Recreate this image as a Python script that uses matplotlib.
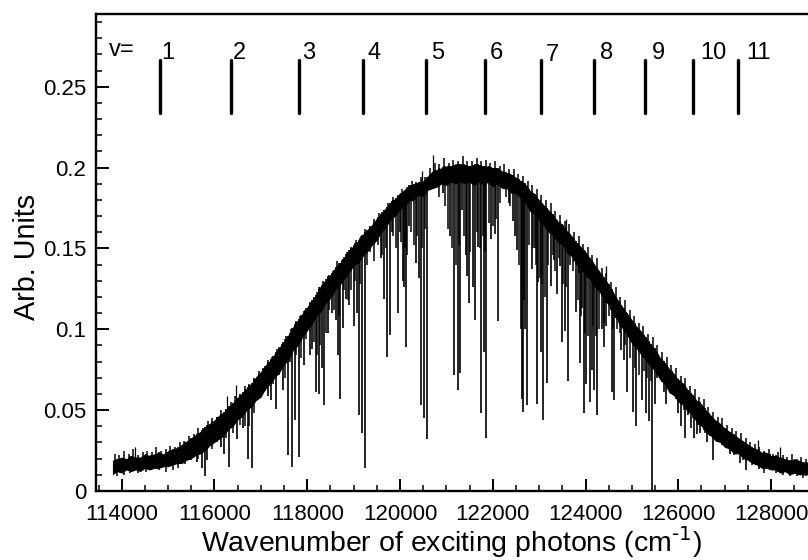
import matplotlib
matplotlib.use('Agg')
import matplotlib.pyplot as plt
import numpy as np

plt.rcParams['font.family'] = ['Liberation Sans', 'DejaVu Sans']
plt.rcParams['mathtext.default'] = 'regular'

x_ticks = [114000, 116000, 118000, 120000, 122000, 124000, 126000, 128000]
y_ticks = [0, 0.05, 0.1, 0.15, 0.2, 0.25]
y_labels = ['0', '0.05', '0.1', '0.15', '0.2', '0.25']

# solid part of the spectrum, every 100 cm-1
band_x = [113800 + 100 * i for i in range(151)]
band_top = [
    .019, .020, .021, .020, .022, .021, .021, .023, .022, .023, .024, .023, .025, .026, .027,
    .029, .031, .033, .035, .037, .040, .042, .044, .047, .049, .052, .055, .058, .061, .064,
    .067, .071, .074, .078, .081, .085, .089, .093, .097, .102, .106, .110, .114, .118, .122,
    .127, .131, .134, .138, .141, .145, .149, .152, .155, .159, .162, .165, .169, .172, .175,
    .179, .181, .184, .186, .189, .190, .191, .191, .195, .198, .199, .200, .201, .201, .202,
    .202, .202, .201, .202, .202, .201, .201, .200, .200, .198, .197, .196, .194, .192, .190,
    .186, .184, .180, .177, .174, .171, .167, .165, .161, .158, .154, .151, .148, .144, .140,
    .136, .132, .128, .123, .118, .114, .110, .106, .102, .099, .095, .091, .088, .083, .080,
    .076, .073, .069, .067, .063, .060, .056, .054, .050, .047, .044, .042, .039, .037, .035,
    .033, .031, .029, .027, .026, .024, .024, .022, .022, .021, .020, .019, .020, .019, .018,
    .018]
band_bottom = [
    .010, .012, .011, .013, .012, .013, .012, .014, .013, .014, .014, .015, .015, .016, .017,
    .017, .019, .020, .022, .023, .025, .028, .030, .032, .034, .038, .040, .044, .046, .050,
    .052, .056, .058, .063, .066, .070, .073, .078, .081, .087, .090, .095, .099, .103, .108,
    .111, .116, .119, .124, .127, .131, .135, .139, .141, .145, .148, .152, .155, .160, .163,
    .168, .170, .174, .176, .179, .180, .183, .182, .186, .187, .188, .190, .189, .191, .190,
    .191, .190, .191, .189, .191, .189, .191, .188, .190, .187, .187, .184, .184, .181, .178,
    .173, .171, .167, .164, .160, .158, .154, .152, .147, .145, .140, .138, .133, .131, .126,
    .123, .118, .115, .109, .105, .100, .096, .091, .088, .084, .081, .077, .074, .069, .066,
    .061, .059, .055, .053, .049, .047, .042, .040, .036, .034, .031, .030, .027, .026, .023,
    .023, .020, .019, .017, .016, .014, .014, .013, .013, .011, .012, .010, .011, .010, .010,
    .010]

# teeth on the upper edge, half way between the band points
tooth_x = [113850 + 100 * i for i in range(150)]
tooth_top = [
    .023, .022, .025, .023, .026, .022, .024, .025, .024, .027, .025, .026, .028, .027, .030,
    .031, .034, .035, .039, .039, .043, .045, .046, .050, .051, .055, .059, .060, .065, .066,
    .070, .074, .076, .081, .083, .088, .091, .096, .100, .105, .108, .112, .117, .120, .126,
    .130, .133, .136, .142, .143, .148, .151, .155, .158, .162, .163, .168, .172, .174, .178,
    .182, .183, .187, .187, .192, .191, .194, .194, .200, .203, .202, .206, .203, .205, .204,
    .207, .204, .204, .206, .204, .205, .203, .204, .201, .202, .199, .199, .196, .195, .192,
    .189, .187, .183, .180, .178, .173, .171, .167, .165, .160, .158, .153, .151, .146, .144,
    .138, .135, .129, .126, .120, .118, .112, .108, .104, .102, .097, .095, .090, .086, .083,
    .078, .076, .071, .070, .065, .063, .058, .057, .052, .049, .046, .045, .041, .039, .037,
    .036, .033, .030, .029, .027, .025, .026, .023, .024, .022, .021, .023, .020, .021, .020]

# absorption lines: position and how far down each one reaches
dip_x = [
    115616, 115724, 115795, 115845, 116133, 116205, 116312, 116478, 116608, 116715, 116802,
    117039, 117159, 117211, 117319, 117483, 117577, 117670, 117735, 117814, 117928, 118058,
    118108, 118188, 118253, 118310, 118360, 118439, 118525, 118618, 118661, 118704, 118762,
    118834, 118905, 119006, 119064, 119107, 119179, 119237, 119581, 119652, 119717, 119775,
    119819, 119954, 119997, 120056, 120084, 120127, 120198, 120342, 120407, 120450, 120515,
    120580, 120931, 121075, 121168, 121241, 121290, 121340, 121420, 121448, 121478, 121564,
    121614, 121685, 121743, 121801, 121865, 121973, 122044, 122103, 122346, 122426, 122476,
    122525, 122605, 122641, 122655, 122691, 122734, 122841, 122906, 122949, 122978, 123036,
    123094, 123159, 123251, 123316, 123381, 123446, 123489, 123553, 123618, 123790, 123855,
    123883, 123920, 123963, 124021, 124092, 124135, 124193, 124258, 124351, 124409, 124452,
    124566, 124624, 124716, 124775, 124825, 124896, 125019, 125098, 125228, 125298, 125363,
    125443, 125493, 125542, 125615, 125687, 125745, 125995, 126068, 126154, 126211, 126275,
    126348, 126404, 126462, 126628, 126693, 126758, 127124, 127340, 127454, 127734, 127971]
dip_y = [
    .018, .014, .009, .019, .027, .023, .015, .032, .039, .020, .014,
    .061, .059, .056, .051, .0625, .022, .015, .044, .021, .078, .084,
    .088, .061, .060, .076, .053, .098, .110, .106, .084, .057, .101,
    .119, .115, .102, .110, .047, .036, .014, .144, .119, .083, .0965,
    .160, .110, .160, .130, .126, .089, .164, .141, .132, .053, .045,
    .032, .184, .158, .072, .0625, .073, .174, .146, .133, .116, .126,
    .106, .151, .048, .086, .033, .156, .159, .105, .178, .167, .158,
    .149, .100, .057, .049, .100, .053, .137, .150, .054, .129, .086,
    .044, .067, .127, .143, .122, .139, .092, .099, .068, .111, .135,
    .079, .113, .048, .066, .055, .075, .0625, .047, .100, .089, .102,
    .061, .056, .104, .087, .081, .061, .049, .040, .056, .048, .043,
    .000, .054, .070, .071, .061, .054, .048, .040, .033, .047, .039,
    .033, .035, .036, .030, .034, .019, .023, .0175, .013, .0136, .013]

# shorter lines that fray the lower edge of the band
shallow_x = [
    113900, 114050, 114180, 114350, 114520, 114640, 114800, 114950, 115100, 115220, 115360,
    115500, 115650, 115950, 116050, 116250, 116390, 116540, 116660, 116750, 116850, 116950,
    117090, 117260, 117400, 117530, 117620, 117760, 117870, 117980, 118140, 118220, 118280,
    118400, 118480, 118570, 118690, 118800, 118870, 118950, 119040, 119140, 119280, 119360,
    119440, 119520, 119620, 119690, 119860, 119910, 120030, 120110, 120160, 120240, 120300,
    120370, 120480, 120540, 120850, 120980, 121040, 121120, 121210, 121270, 121380, 121520,
    121650, 121720, 121780, 121840, 121920, 122010, 122080, 122160, 122280, 122380, 122560,
    122620, 122670, 122780, 122870, 122930, 123010, 123070, 123130, 123200, 123290, 123350,
    123420, 123520, 123590, 123660, 123720, 123830, 123900, 123990, 124060, 124160, 124230,
    124300, 124390, 124500, 124600, 124680, 124750, 124860, 124960, 125060, 125160, 125260,
    125330, 125410, 125570, 125650, 125860, 125930, 126030, 126120, 126240, 126320, 126430,
    126570, 126660, 126830, 127000, 127200, 127400, 127600, 127850, 127950, 128100, 128250,
    128400, 128560, 128680, 128760]
shallow_y = [
    .009, .010, .011, .011, .012, .013, .013, .012, .013, .014, .017,
    .019, .020, .026, .030, .033, .036, .041, .040, .040, .048, .058,
    .062, .066, .072, .070, .080, .084, .082, .094, .092, .084, .090,
    .098, .112, .112, .108, .124, .118, .124, .130, .128, .140, .148,
    .142, .152, .146, .150, .158, .150, .154, .150, .146, .160, .152,
    .158, .150, .162, .182, .176, .162, .150, .140, .152, .158, .148,
    .160, .150, .158, .148, .166, .164, .168, .178, .182, .176, .140,
    .130, .118, .152, .150, .140, .132, .128, .120, .140, .146, .136,
    .144, .128, .126, .140, .136, .118, .108, .098, .096, .102, .096,
    .100, .104, .108, .100, .100, .098, .090, .082, .076, .072, .074,
    .070, .068, .074, .068, .060, .062, .056, .050, .050, .045, .041,
    .036, .036, .030, .027, .022, .019, .016, .011, .014, .011, .010,
    .009, .009, .008, .009]

# single points sticking out above the band
spike_x = [114287, 116263, 116463, 120465, 120710, 123590, 124452, 127713, 128190]
spike_y = [.027, .059, .0656, .1976, .208, .168, .139, .0315, .027]

# vibrational level markers
levels = ['1', '2', '3', '4', '5', '6', '7', '8', '9', '10', '11']
level_x = [114819, 116356, 117821, 119207, 120552, 121823, 123030, 124185, 125284, 126319, 127297]
level_text_x = [114862, 116392, 117879, 119308, 120681, 121937, 123137, 124307, 125428, 126477, 127468]
level_text_y = [.2673, .2673, .2673, .2673, .2673, .2673, .266, .2673, .2673, .2673, .2673]
marker_low, marker_high = 0.234, 0.2667

fig = plt.figure(figsize=(8.08, 5.6), dpi=100)
ax = fig.add_axes([96 / 808, 1 - 491 / 560, 712 / 808, 477 / 560])

ax.fill_between(band_x, band_bottom, band_top, color='black', linewidth=0)
ax.vlines(tooth_x, np.interp(tooth_x, band_x, band_bottom), tooth_top, color='black', linewidth=1.1)
ax.vlines(dip_x, dip_y, np.interp(dip_x, band_x, band_top), color='black', linewidth=1.2)
ax.vlines(shallow_x, shallow_y, np.interp(shallow_x, band_x, band_top), color='black', linewidth=1.1)
ax.vlines(spike_x, np.array(spike_y) - 0.012, spike_y, color='black', linewidth=0.9)

ax.vlines(level_x, marker_low, marker_high, color='black', linewidth=2.4, capstyle='round')
for lab, tx, ty in zip(levels, level_text_x, level_text_y):
    ax.text(tx, ty, lab, fontsize=17, va='baseline', ha='left')
ax.text(113726, .269, 'v=', fontsize=17, va='baseline', ha='left')

ax.set_xlim(113446, 128797)
ax.set_ylim(0, 0.295)
ax.set_xticks(x_ticks)
ax.set_xticks(np.arange(113500, 128800, 500), minor=True)
ax.set_yticks(y_ticks)
ax.set_yticklabels(y_labels)
ax.set_yticks(np.arange(0.01, 0.295, 0.01), minor=True)
ax.tick_params(which='major', direction='in', length=9, width=1.4, labelsize=16, pad=7)
ax.tick_params(axis='x', which='major', pad=9)
ax.tick_params(which='minor', direction='in', length=4.5, width=1.1)

for side in ['left', 'bottom', 'top']:
    ax.spines[side].set_linewidth(1.7)
ax.spines['right'].set_visible(False)

ax.set_xlabel('Wavenumber of exciting photons (cm$^{\\text{-1}}$)', fontsize=20.5, labelpad=0.5)
ax.set_ylabel('Arb. Units', fontsize=20.7)
ax.yaxis.set_label_coords(-0.077, 0.49)

fig.savefig('out.png', dpi=100)
